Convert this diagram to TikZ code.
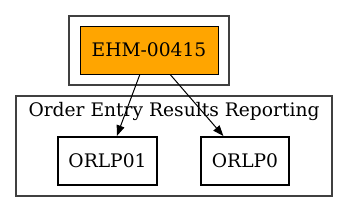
\documentclass[tikz,border=0pt]{standalone}
\usepackage{fontspec}
\setmainfont{DejaVu Serif}
\usetikzlibrary{arrows.meta}
\definecolor{gvorange}{HTML}{FFA500}
\tikzset{
  cluster/.style={draw=black!75, line width=0.9pt, inner sep=0pt},
  sysbox/.style={draw, fill=gvorange, line width=0.75pt, inner sep=0pt, minimum height=36pt},
  appbox/.style={draw, line width=1.5pt, inner sep=0pt, minimum height=36pt},
  edge/.style={-{Triangle[length=8pt,width=6pt]}, line width=0.75pt}
}
\begin{document}
\begin{tikzpicture}[x=0.75pt, y=-0.75pt, font=\fontsize{14}{16}\selectfont]
  \useasboundingbox (0,0) rectangle (348,212);
  % clusters
  \node[cluster, minimum width=120pt, minimum height=51.75pt] (top) at (149,50.5) {};
  \node[cluster, minimum width=237pt, minimum height=75pt] (oerr) at (174,146) {};
  \node (oerrlabel) at (174,111) {Order Entry Results Reporting};
  % nodes
  \node[sysbox, minimum width=103.5pt] (ehm) at (149,50) {EHM-00415};
  \node[appbox, minimum width=74.25pt] (orlp01) at (107.5,161) {ORLP01};
  \node[appbox, minimum width=66pt] (orlp0) at (245,161) {ORLP0};
  % edges
  \draw[edge] (ehm) -- (orlp01);
  \draw[edge] (ehm) -- (orlp0);
\end{tikzpicture}
\end{document}
